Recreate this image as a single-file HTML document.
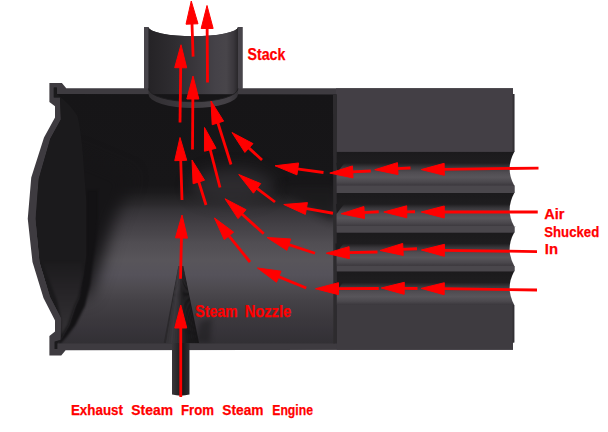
<!DOCTYPE html>
<html><head><meta charset="utf-8"><title>Smokebox draft</title>
<style>html,body{margin:0;padding:0;background:#fff;overflow:hidden}svg{display:block}</style>
</head><body>
<svg width="608" height="432" viewBox="0 0 608 432">
<defs>
<linearGradient id="cyl" gradientUnits="userSpaceOnUse" x1="0" y1="94.5" x2="0" y2="343">
<stop offset="0.000" stop-color="#161517"/>
<stop offset="0.364" stop-color="#171618"/>
<stop offset="0.396" stop-color="#1c1b1d"/>
<stop offset="0.416" stop-color="#232224"/>
<stop offset="0.441" stop-color="#2b292c"/>
<stop offset="0.465" stop-color="#353337"/>
<stop offset="0.497" stop-color="#3d3a3f"/>
<stop offset="0.525" stop-color="#434045"/>
<stop offset="0.565" stop-color="#4a474c"/>
<stop offset="0.594" stop-color="#504d52"/>
<stop offset="0.666" stop-color="#58555a"/>
<stop offset="0.726" stop-color="#55525a"/>
<stop offset="0.787" stop-color="#4c494e"/>
<stop offset="0.827" stop-color="#454247"/>
<stop offset="0.867" stop-color="#403d42"/>
<stop offset="0.907" stop-color="#3b383d"/>
<stop offset="0.948" stop-color="#37343a"/>
<stop offset="1.000" stop-color="#323034"/>
</linearGradient>
<linearGradient id="tube" x1="0" y1="0" x2="0" y2="1">
<stop offset="0" stop-color="#1b1a1c"/>
<stop offset="0.33" stop-color="#1e1d1f"/>
<stop offset="0.45" stop-color="#38363a"/>
<stop offset="0.6" stop-color="#4f4c51"/>
<stop offset="0.75" stop-color="#58555a"/>
<stop offset="0.9" stop-color="#4a474c"/>
<stop offset="1" stop-color="#3a373c"/>
</linearGradient>
<linearGradient id="stack" x1="0" y1="0" x2="1" y2="0">
<stop offset="0" stop-color="#252326"/>
<stop offset="0.3" stop-color="#2f2d31"/>
<stop offset="0.55" stop-color="#3b383d"/>
<stop offset="0.75" stop-color="#454248"/>
<stop offset="0.87" stop-color="#48454a"/>
<stop offset="0.95" stop-color="#3a373c"/>
<stop offset="1" stop-color="#29272a"/>
</linearGradient>
<linearGradient id="noz" gradientUnits="userSpaceOnUse" x1="163" y1="0" x2="199" y2="0">
<stop offset="0" stop-color="#2a282b"/>
<stop offset="0.3" stop-color="#3d3a3f"/>
<stop offset="0.5" stop-color="#2c2a2d"/>
<stop offset="0.7" stop-color="#1b1a1c"/>
<stop offset="1" stop-color="#151416"/>
</linearGradient>
<linearGradient id="pipe" x1="0" y1="0" x2="1" y2="0">
<stop offset="0" stop-color="#3a373b"/>
<stop offset="0.3" stop-color="#2a282b"/>
<stop offset="0.6" stop-color="#1a191b"/>
<stop offset="1" stop-color="#2e2c2f"/>
</linearGradient>
<linearGradient id="rim" x1="0" y1="0" x2="1" y2="0">
<stop offset="0" stop-color="#302e31"/>
<stop offset="0.3" stop-color="#39363b"/>
<stop offset="0.7" stop-color="#454247"/>
<stop offset="0.9" stop-color="#423f44"/>
<stop offset="1" stop-color="#333135"/>
</linearGradient>
<linearGradient id="sliver" gradientUnits="userSpaceOnUse" x1="0" y1="258" x2="0" y2="325">
<stop offset="0" stop-color="#1b1a1c"/>
<stop offset="0.5" stop-color="#262427"/>
<stop offset="1" stop-color="#312f32"/>
</linearGradient>
<filter id="b1" color-interpolation-filters="sRGB" x="-50%" y="-50%" width="200%" height="200%"><feGaussianBlur stdDeviation="1.2"/></filter>
<filter id="b5" color-interpolation-filters="sRGB" x="-50%" y="-50%" width="200%" height="200%"><feGaussianBlur stdDeviation="4.5"/></filter>
<filter id="b10" color-interpolation-filters="sRGB" x="-50%" y="-50%" width="200%" height="200%"><feGaussianBlur stdDeviation="8"/></filter>
<filter id="b3" color-interpolation-filters="sRGB" x="-50%" y="-50%" width="200%" height="200%"><feGaussianBlur stdDeviation="2.5"/></filter>
<clipPath id="inner"><path d="M53.75,87.6 L56.9,87.6 L56.9,94 L336.6,94.4 L335,343.5 L57.5,343.5 L57.5,349 L54.4,349 L54.4,341.6 L60.6,339.75 L61.25,318.5 L50,297 L39.4,262 L35.4,218.75 L38.75,178.75 L50.25,138.75 L60.8,119.5 L60,97.5 L53.75,97.5 Z"/></clipPath>
</defs>
<rect width="608" height="432" fill="#fff"/>
<!-- outer shell cut faces -->
<path fill="#3e3b40" d="M49.4,83.1 L61.9,83.1 L66.25,88.3 L144.1,88.3 L144.1,27 L242.5,27 L242.5,88.3 L513,88.3 L513,94 L514.25,94 L514.25,342.5 L513,342.5 L513,349.7 L65.6,350.3 L61.25,355.4 L49.4,355.4 L49.4,336 L55,331.6 L55,320.4 L43.5,298 L32.5,262 L27.75,218.75 L31.25,177.5 L44,137.5 L55,117.5 L55,106.25 L49.4,101.9 Z"/>
<rect x="144.1" y="27" width="4.4" height="61.5" fill="#47444a"/><rect x="238" y="27" width="4.5" height="61.5" fill="#47444a"/>
<!-- stack interior -->
<path fill="#fff" d="M148.5,26 L238,26 L238,27 A44.75,9.3 0 0 1 148.5,27 Z"/>
<path fill="url(#stack)" d="M148.5,27 A44.75,9.3 0 0 0 238,27 L238,88.5 A44.75,13.2 0 0 1 148.5,88.5 Z"/>
<!-- boiler solid -->
<rect x="336" y="88.3" width="177" height="216.7" fill="#433f45"/>
<rect x="336" y="94" width="178.25" height="211" fill="#433f45"/>
<!-- interior cylinder -->
<g clip-path="url(#inner)">
<rect x="30" y="85" width="310" height="266" fill="url(#cyl)"/>
<path d="M70,150 L132,176 L114,222 L102,262 L90,296 L60,300 Z" fill="#161517" filter="url(#b10)"/>
<ellipse cx="232" cy="186" rx="42" ry="17" fill="#333135" opacity="0.8" filter="url(#b10)"/>
<path d="M280,186 L336,186 L336,222 L318,214 Z" fill="#1b1a1c" opacity="0.85" filter="url(#b5)"/>
<path d="M86.3,190 L86.3,256 L83.75,275 L79,297.5 L75,306 L68.75,325 L62,337 L57.5,343.5 L60.5,343.5 L66.5,337 L75.5,325 L85,306 L90,285 L93,260 L96,240 L98,220 L98,190 Z" fill="#131214" filter="url(#b1)"/>
<path d="M53.75,87.6 L53.75,97.5 L60,97.5 L60.80,119.50 L50.25,138.75 L38.75,178.75 L35.40,218.75 L39.40,262.00 L50.00,297.00 L61.25,318.50 L60.60,339.75 L54.4,341.6 L54.4,349 L57.5,349 L57.5,343.5 L62,337 L68.75,325 L75,306 L79,297.5 L83.75,275 L86.3,256 L86.3,200 L84,170 Q82,135 77.5,116 Q70,104 57,94.3 L56.9,87.6 Z" fill="#1b1a1c"/>
<path d="M42.5,262 L47.5,275 L57.5,302 L61.25,320 L61.25,335 L67.5,325 L74,306 L78,297.5 L82.5,275 L82,262 Z" fill="url(#sliver)" filter="url(#b1)"/>
<!-- nozzle shadow -->
<path d="M196,342 L200,322 L212,318 L210,343 Z" fill="#1b1a1c" opacity="0.5" filter="url(#b3)"/>
</g>
<!-- stack bottom rim -->
<path fill="url(#rim)" d="M148.5,88.5 A44.75,13.2 0 0 0 238,88.5 L238,94.3 A44.75,13.8 0 0 1 148.5,94.3 Z"/>
<path fill="none" stroke="#1d1c1e" stroke-width="0.9" d="M148.5,88.5 A44.75,13.2 0 0 0 238,88.5"/>
<rect x="336.8" y="305" width="176.2" height="44.7" fill="#3e3b40"/>
<!-- tube sheet strip -->
<path fill="#2d2b2e" d="M333,94.4 L336.8,94.4 L337,343.5 L333.4,343.5 Z"/>
<rect x="512.6" y="94" width="1.65" height="248.5" fill="#323034"/>
<!-- tubes -->
<g>
<rect x="336.6" y="151.9" width="178.4" height="33.7" fill="url(#tube)"/>
<rect x="336.6" y="193" width="179" height="33.5" fill="url(#tube)"/>
<rect x="336.6" y="232.5" width="178.4" height="33.5" fill="url(#tube)"/>
<rect x="336.8" y="271.3" width="178" height="33.7" fill="url(#tube)"/>
</g>
<g fill="#4a474c">
<rect x="336.7" y="185.6" width="177.55" height="7.4"/>
<rect x="336.7" y="226" width="177.55" height="6.5"/>
<rect x="336.8" y="265.8" width="177.45" height="5.5"/>
</g>
<path d="M336.4,162.9 L344.4,162.9 L336.9,172.9 Z" fill="#1e1d1f"/><path d="M336.0,204.0 L344.0,204.0 L336.5,214.0 Z" fill="#1e1d1f"/><path d="M335.4,243.5 L343.4,243.5 L335.9,253.5 Z" fill="#1e1d1f"/><path d="M335.0,282.3 L343.0,282.3 L335.5,292.3 Z" fill="#1e1d1f"/>
<!-- tube end concavities (white) -->
<g fill="#fff">
<path d="M516,151.9 L514.25,151.9 Q505,168.5 514.25,185.6 L516,185.6 Z"/>
<path d="M516,193 L514.25,193 Q505,210 514.25,226.5 L516,226.5 Z"/>
<path d="M516,232.5 L514.25,232.5 Q505,249 514.25,266 L516,266 Z"/>
<path d="M516,271.3 L514.25,271.3 Q505,288 514.25,305 L516,305 Z"/>
</g>
<!-- nozzle -->
<polygon points="178.40,266.00 178.75,266.00 166.24,343.00 163.75,343.00" fill="#2a282b"/><polygon points="178.70,266.00 179.05,266.00 168.43,343.00 165.94,343.00" fill="#343236"/><polygon points="179.00,266.00 179.35,266.00 170.61,343.00 168.12,343.00" fill="#373539"/><polygon points="179.30,266.00 179.65,266.00 172.80,343.00 170.31,343.00" fill="#3b383d"/><polygon points="179.60,266.00 179.95,266.00 174.99,343.00 172.50,343.00" fill="#373539"/><polygon points="179.90,266.00 180.25,266.00 177.18,343.00 174.69,343.00" fill="#333135"/><polygon points="180.20,266.00 180.55,266.00 179.36,343.00 176.88,343.00" fill="#2f2d31"/><polygon points="180.50,266.00 180.85,266.00 181.55,343.00 179.06,343.00" fill="#2a282b"/><polygon points="180.80,266.00 181.15,266.00 183.74,343.00 181.25,343.00" fill="#242325"/><polygon points="181.10,266.00 181.45,266.00 185.93,343.00 183.44,343.00" fill="#201f21"/><polygon points="181.40,266.00 181.75,266.00 188.11,343.00 185.62,343.00" fill="#1c1b1d"/><polygon points="181.70,266.00 182.05,266.00 190.30,343.00 187.81,343.00" fill="#1a191b"/><polygon points="182.00,266.00 182.35,266.00 192.49,343.00 190.00,343.00" fill="#19181a"/><polygon points="182.30,266.00 182.65,266.00 194.68,343.00 192.19,343.00" fill="#19181a"/><polygon points="182.60,266.00 182.95,266.00 196.86,343.00 194.38,343.00" fill="#181719"/><polygon points="182.90,266.00 183.25,266.00 199.05,343.00 196.56,343.00" fill="#171618"/>
<path d="M172,343 L172,394.6 Q180.75,396.8 189.5,394.6 L189.5,343 Z" fill="url(#pipe)"/>
<!-- arrows -->
<g fill="#ff0000" stroke="#ff0000" stroke-linecap="butt">
<polygon points="191.25,1.00 186.02,24.19 198.01,23.79"/><line x1="191.98" y1="22.99" x2="193.10" y2="56.60" stroke-width="2.80"/>
<polygon points="207.00,5.50 201.15,28.54 213.15,28.46"/><line x1="207.14" y1="27.50" x2="207.50" y2="82.50" stroke-width="2.80"/>
<polygon points="181.00,44.75 174.70,67.67 186.70,67.83"/><line x1="180.72" y1="66.75" x2="180.00" y2="122.50" stroke-width="2.80"/>
<polygon points="193.00,76.00 186.84,98.96 198.84,99.04"/><line x1="192.85" y1="98.00" x2="192.50" y2="149.50" stroke-width="2.80"/>
<polygon points="211.00,101.00 212.19,124.74 223.63,121.14"/><line x1="217.61" y1="121.98" x2="231.00" y2="164.50" stroke-width="2.80"/>
<polygon points="204.50,127.50 204.44,151.27 216.06,148.27"/><line x1="210.00" y1="148.80" x2="220.00" y2="187.50" stroke-width="2.80"/>
<polygon points="180.00,137.50 174.74,160.68 186.73,160.30"/><line x1="180.70" y1="159.49" x2="182.00" y2="200.00" stroke-width="2.80"/>
<polygon points="192.00,160.00 193.10,183.74 204.56,180.18"/><line x1="198.54" y1="181.01" x2="206.00" y2="205.00" stroke-width="2.80"/>
<polygon points="232.00,132.50 244.90,152.46 253.01,143.62"/><line x1="248.22" y1="147.37" x2="262.00" y2="160.00" stroke-width="2.80"/>
<polygon points="238.75,174.50 253.45,193.18 260.70,183.62"/><line x1="256.28" y1="187.80" x2="275.00" y2="202.00" stroke-width="2.80"/>
<polygon points="275.00,165.75 296.95,174.86 298.61,162.98"/><line x1="296.79" y1="168.78" x2="323.50" y2="172.50" stroke-width="2.80"/>
<polygon points="225.00,198.75 238.05,218.62 246.09,209.71"/><line x1="241.33" y1="213.50" x2="263.75" y2="233.75" stroke-width="2.80"/>
<polygon points="214.50,218.00 224.27,239.67 233.61,232.13"/><line x1="228.31" y1="235.12" x2="250.00" y2="262.00" stroke-width="2.80"/>
<polygon points="182.00,215.00 175.46,237.85 187.46,238.13"/><line x1="181.48" y1="236.99" x2="180.50" y2="278.75" stroke-width="2.80"/>
<polygon points="267.00,237.50 286.98,250.37 290.72,238.97"/><line x1="287.90" y1="244.36" x2="315.00" y2="253.25" stroke-width="2.80"/>
<polygon points="257.50,268.00 276.50,282.28 281.06,271.18"/><line x1="277.85" y1="276.35" x2="306.25" y2="288.00" stroke-width="2.80"/>
<polygon points="283.75,204.50 305.35,214.43 307.44,202.62"/><line x1="305.41" y1="208.35" x2="333.00" y2="213.25" stroke-width="2.80"/>
<polygon points="329.75,173.10 353.03,177.92 352.41,165.93"/><line x1="351.72" y1="171.97" x2="370.75" y2="171.00" stroke-width="2.80"/>
<polygon points="374.75,169.75 398.02,174.62 397.43,162.63"/><line x1="396.72" y1="168.67" x2="410.50" y2="168.00" stroke-width="2.80"/>
<polygon points="421.25,169.60 444.32,175.31 444.17,163.31"/><line x1="443.25" y1="169.32" x2="538.50" y2="168.10" stroke-width="2.80"/>
<polygon points="341.25,213.75 364.54,218.52 363.90,206.53"/><line x1="363.22" y1="212.58" x2="378.75" y2="211.75" stroke-width="2.80"/>
<polygon points="383.75,212.00 406.80,217.82 406.70,205.82"/><line x1="405.75" y1="211.82" x2="415.00" y2="211.75" stroke-width="2.80"/>
<polygon points="421.25,212.00 444.25,218.00 444.25,206.00"/><line x1="443.25" y1="212.00" x2="537.75" y2="212.00" stroke-width="2.80"/>
<polygon points="326.25,253.25 349.39,258.69 349.10,246.69"/><line x1="348.24" y1="252.71" x2="377.50" y2="252.00" stroke-width="2.80"/>
<polygon points="380.00,250.50 403.26,255.41 402.69,243.42"/><line x1="401.98" y1="249.46" x2="417.00" y2="248.75" stroke-width="2.80"/>
<polygon points="421.40,250.00 444.31,256.32 444.48,244.32"/><line x1="443.40" y1="250.30" x2="537.00" y2="251.60" stroke-width="2.80"/>
<polygon points="315.50,288.75 338.52,294.66 338.48,282.66"/><line x1="337.50" y1="288.66" x2="378.75" y2="288.50" stroke-width="2.80"/>
<polygon points="381.25,288.00 404.17,294.32 404.33,282.32"/><line x1="403.25" y1="288.30" x2="417.50" y2="288.50" stroke-width="2.80"/>
<polygon points="421.25,288.40 444.16,294.72 444.33,282.72"/><line x1="443.25" y1="288.70" x2="537.00" y2="290.00" stroke-width="2.80"/>
<polygon points="180.75,305.00 174.75,328.00 186.75,328.00"/><line x1="180.75" y1="327.00" x2="180.75" y2="397.00" stroke-width="2.80"/>
</g>
<g fill="#ff0000" font-family="'Liberation Sans', sans-serif" font-weight="bold" stroke="#ff0000" stroke-width="0.25" stroke-linejoin="round">
<text x="247.50" y="59.75" font-size="16.20" textLength="37.90" lengthAdjust="spacingAndGlyphs">Stack</text>
<text x="195.30" y="316.80" font-size="15.60" textLength="42.30" lengthAdjust="spacingAndGlyphs">Steam</text>
<text x="244.70" y="316.80" font-size="15.60" textLength="46.50" lengthAdjust="spacingAndGlyphs">Nozzle</text>
<text x="70.95" y="415.20" font-size="14.90" textLength="52.10" lengthAdjust="spacingAndGlyphs">Exhaust</text>
<text x="131.30" y="415.20" font-size="14.90" textLength="41.70" lengthAdjust="spacingAndGlyphs">Steam</text>
<text x="181.00" y="415.20" font-size="14.90" textLength="33.00" lengthAdjust="spacingAndGlyphs">From</text>
<text x="222.25" y="415.20" font-size="14.90" textLength="41.25" lengthAdjust="spacingAndGlyphs">Steam</text>
<text x="272.25" y="415.20" font-size="14.90" textLength="40.75" lengthAdjust="spacingAndGlyphs">Engine</text>
<text x="544.30" y="219.40" font-size="14.40" textLength="20.20" lengthAdjust="spacingAndGlyphs">Air</text>
<text x="544.30" y="237.20" font-size="14.90" textLength="54.90" lengthAdjust="spacingAndGlyphs">Shucked</text>
<text x="544.80" y="253.90" font-size="14.50" textLength="13.20" lengthAdjust="spacingAndGlyphs">In</text>
</g>
</svg>
</body></html>
